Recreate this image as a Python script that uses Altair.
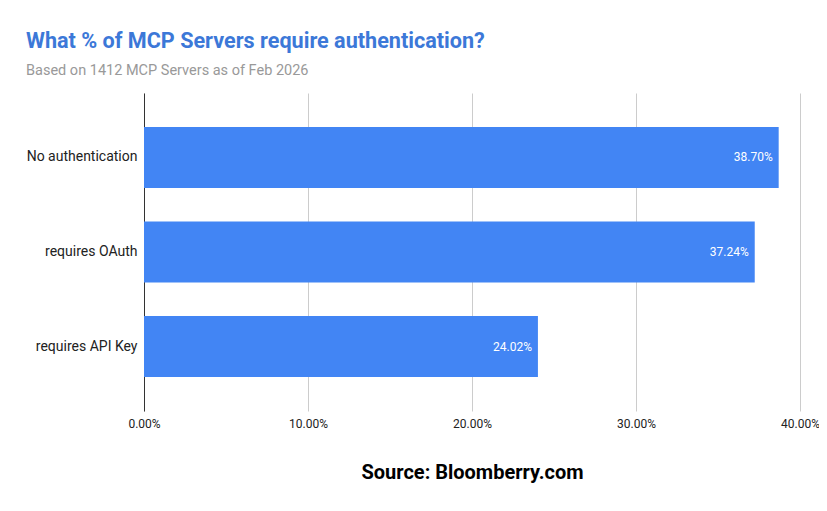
import altair as alt
import pandas as pd

categories = ["No authentication", "requires OAuth", "requires API Key"]
values = [38.70, 37.24, 24.02]
labels = ["38.70%", "37.24%", "24.02%"]

df = pd.DataFrame({"cat": categories, "val": values, "lab": labels})

base = alt.Chart(df).encode(
    y=alt.Y("cat:N", sort=categories, title=None,
            scale=alt.Scale(paddingInner=0.355, paddingOuter=0.36),
            axis=alt.Axis(labelFontSize=14, labelColor="#222222", labelFont="Roboto",
                          ticks=False, domainColor="#333333", labelPadding=7, grid=False)),
)

bars = base.mark_bar(color="#4285F4").encode(
    x=alt.X("val:Q", title="Source: Bloomberry.com",
            scale=alt.Scale(domain=[0, 40], nice=False),
            axis=alt.Axis(values=[0, 10, 20, 30, 40], labelExpr="format(datum.value, '.2f') + '%'",
                          labelFontSize=12, labelColor="#222222", labelFont="Roboto",
                          labelFlush=False, labelOverlap=False,
                          ticks=False, domain=False, gridColor="#cccccc", labelPadding=7,
                          titleFont="Roboto", titleFontSize=20, titleFontWeight="bold",
                          titleColor="#000000", titlePadding=33))
)

text = base.mark_text(align="right", dx=-6, color="white", fontSize=12, font="Roboto").encode(
    x="val:Q", text="lab:N"
)

chart = (bars + text).properties(
    width=656, height=318,
    background="white",
    title=alt.TitleParams(
        "What % of MCP Servers require authentication?",
        subtitle="Based on 1412 MCP Servers as of Feb 2026",
        anchor="start", frame="group", dx=-118, offset=16,
        font="Roboto", fontSize=21.6, fontWeight="bold", color="#3C78D8",
        subtitleFont="Roboto", subtitleFontSize=14.5, subtitleColor="#999999", subtitlePadding=11,
    ),
    autosize=alt.AutoSizeParams(type="none"),
    padding={"left": 136, "top": 85, "right": 19, "bottom": 92},
).configure_view(strokeWidth=0, stroke="transparent")

chart.save("out.html", embed_options={"renderer": "svg", "actions": False})
